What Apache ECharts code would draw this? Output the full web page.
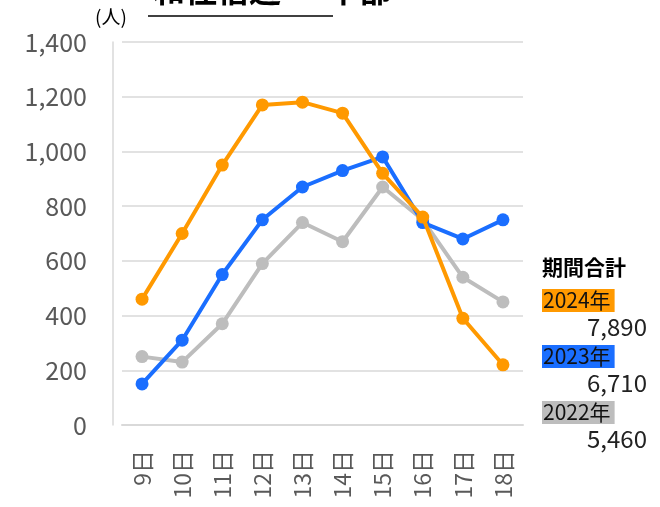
<!DOCTYPE html>
<html>
<head>
<meta charset="utf-8">
<script src="https://cdn.jsdelivr.net/npm/echarts@6/dist/echarts.min.js"></script>
<style>
  html, body { margin: 0; padding: 0; background: #fff; }
  #chart { width: 660px; height: 507px; }
</style>
</head>
<body>
<div id="chart"></div>
<script>
const days = ['9日', '10日', '11日', '12日', '13日', '14日', '15日', '16日', '17日', '18日'];
const years = ['2024年', '2023年', '2022年'];
const v2024 = [460, 700, 950, 1170, 1180, 1140, 920, 760, 390, 220];
const v2023 = [150, 310, 550, 750, 870, 930, 980, 740, 680, 750];
const v2022 = [250, 230, 370, 590, 740, 670, 870, 750, 540, 450];
const colors = ['#FF9900', '#1A6EFF', '#BDBDBD'];

const font = '"Noto Sans CJK JP", "Noto Sans", sans-serif';
const sum = arr => arr.reduce((a, b) => a + b, 0).toLocaleString('en-US');
const totals = [sum(v2024), sum(v2023), sum(v2022)];

const chart = echarts.init(document.getElementById('chart'));

const lineSeries = (name, data, color, z) => ({
  name: name,
  type: 'line',
  data: data,
  z: z,
  symbol: 'circle',
  symbolSize: 13,
  lineStyle: { color: color, width: 4 },
  itemStyle: { color: color },
  emphasis: { disabled: true }
});

// right-side summary block
const side = [{
  type: 'text', left: 542, top: 257,
  style: { text: '期間合計', font: 'bold 21px ' + font, fill: '#000' }
}];
years.forEach((y, i) => {
  const top = 289 + i * 56;
  side.push({
    type: 'text', left: 542, top: top,
    style: {
      text: y, font: '21px ' + font, fill: '#111',
      backgroundColor: colors[i], padding: [1, 4, 1, 1]
    }
  });
  side.push({
    type: 'text', right: 13, top: top + 26,
    style: { text: totals[i], font: '24px ' + font, fill: '#222', align: 'right' }
  });
});

chart.setOption({
  animation: false,
  textStyle: { fontFamily: font },
  title: {
    text: '和住宿週 ー 中部',
    left: 148, top: -31,
    textStyle: { fontSize: 32, fontWeight: 'bold', color: '#000', fontFamily: font }
  },
  grid: { left: 122, right: 137, top: 42, bottom: 82 },
  xAxis: {
    type: 'category',
    data: days,
    boundaryGap: true,
    axisLine: { show: true, lineStyle: { color: '#d9d9d9', width: 2 } },
    axisTick: { show: false },
    axisLabel: { rotate: 90, color: '#595959', fontSize: 23, margin: 25, fontFamily: font }
  },
  yAxis: {
    type: 'value',
    min: 0, max: 1400, interval: 200,
    offset: 9,
    axisLine: { show: true, lineStyle: { color: '#d9d9d9', width: 1.5 } },
    axisTick: { show: false },
    splitLine: { lineStyle: { color: '#d9d9d9', width: 1.5 } },
    axisLabel: {
      color: '#595959', fontSize: 25, margin: 26, fontFamily: font,
      formatter: v => v.toLocaleString('en-US')
    }
  },
  graphic: [
    {
      type: 'line', shape: { x1: 148, y1: 16, x2: 333, y2: 16 },
      style: { stroke: '#000', lineWidth: 1.5 }
    },
    {
      type: 'text', left: 95, top: 7,
      style: { text: '(人)', font: '19px ' + font, fill: '#000' }
    }
  ].concat(side),
  series: [
    lineSeries(years[2], v2022, colors[2], 2),
    lineSeries(years[1], v2023, colors[1], 3),
    lineSeries(years[0], v2024, colors[0], 4)
  ]
});
</script>
</body>
</html>
